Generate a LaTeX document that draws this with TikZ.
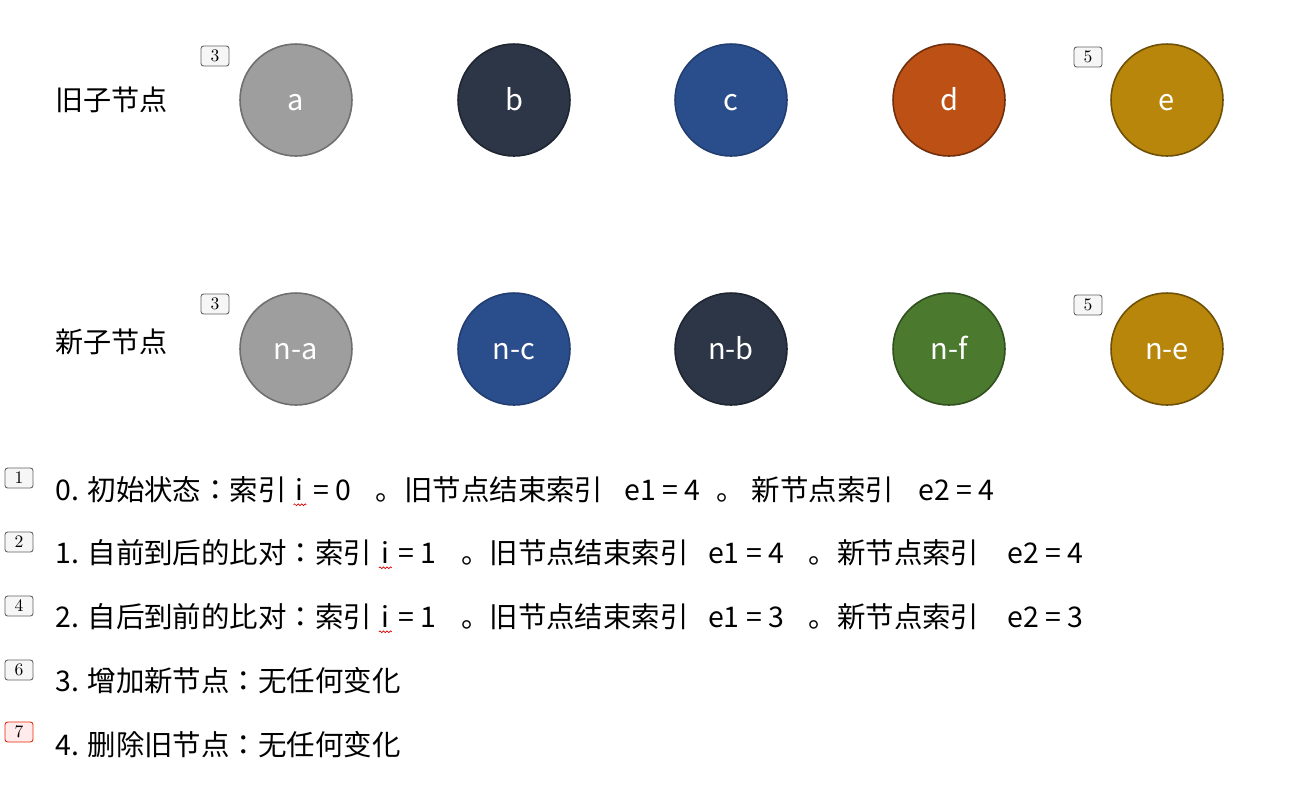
\documentclass[tikz,border=0pt]{standalone}
\usepackage{fontspec}
\newfontfamily\cjk{Noto Sans CJK JP}
\usepackage{tikz}
\usetikzlibrary{decorations.pathmorphing}
\definecolor{kgray}{HTML}{9E9E9E}
\definecolor{kslate}{HTML}{2C3647}
\definecolor{kblue}{HTML}{2A4D8C}
\definecolor{korange}{HTML}{BD5015}
\definecolor{kgold}{HTML}{B8860B}
\definecolor{kgreen}{HTML}{4B7A2F}
\tikzset{
  kid/.style    ={circle,draw,line width=0.9pt,minimum size=2.24cm,inner sep=0pt,text=white,text height=1.2em,text depth=0pt,font=\cjk\fontsize{16.5}{16.5}\selectfont},
  cgray/.style  ={fill=kgray,draw=kgray!70!black},
  cslate/.style ={fill=kslate,draw=kslate!70!black},
  cblue/.style  ={fill=kblue,draw=kblue!80!black},
  corange/.style={fill=korange,draw=korange!60!black},
  cgold/.style  ={fill=kgold,draw=kgold!60!black},
  cgreen/.style ={fill=kgreen,draw=kgreen!65!black},
  tag/.style    ={draw=gray!75!black,fill=gray!7,rounded corners=1.5pt,line width=0.5pt,minimum width=0.56cm,minimum height=0.4cm,inner sep=0pt,font=\fontsize{10}{10}\selectfont},
  redtag/.style ={tag,draw=red!65!orange!90!black,fill=red!8},
  rowlabel/.style={anchor=base west,inner sep=0pt,font=\cjk\fontsize{16}{16}\selectfont},
  stepline/.style={anchor=base west,inner sep=0pt,font=\cjk\fontsize{16.2}{16.2}\selectfont},
}
\newcommand\wavyi{\tikz[baseline=(wi.base)]{\node[inner sep=0pt] (wi) {i};
  \draw[red!85!black,line width=0.4pt,decorate,decoration={snake,amplitude=0.5pt,segment length=2pt}]
    ([yshift=-2.5pt,xshift=-1pt]wi.south west) -- ([yshift=-2.5pt,xshift=1.5pt]wi.south east);}}
\newcommand\gap[1]{\hspace*{#1pt}}

\begin{document}
\begin{tikzpicture}[x=0.02cm,y=-0.02cm]
  \useasboundingbox (0,0) rectangle (1312,796);
  % row labels
  \node[rowlabel] (oldlbl) at (55,110) {旧子节点};
  \node[rowlabel] (newlbl) at (55,352) {新子节点};
  % old children
  \foreach \x/\name/\col in {296/a/cgray,514/b/cslate,731/c/cblue,949/d/corange,1167/e/cgold}
     \node[kid,\col] (o\name) at (\x,100) {\name};
  % new children
  \foreach \x/\name/\col in {296/a/cgray,514/c/cblue,731/b/cslate,949/f/cgreen,1167/e/cgold}
     \node[kid,\col] (n\name) at (\x,349) {n-\name};
  % markers
  \node[tag] (t3a) at (215,56)  {3};
  \node[tag] (t5a) at (1088,57) {5};
  \node[tag] (t3b) at (215,304) {3};
  \node[tag] (t5b) at (1088,305){5};
  % steps
  \node[tag]    (t1) at (19,478) {1};
  \node[tag]    (t2) at (19,542) {2};
  \node[tag]    (t4) at (19,606) {4};
  \node[tag]    (t6) at (19,670) {6};
  \node[redtag] (t7) at (19,732) {7};
  \node[stepline] (s0) at (55,500) {0. 初始状态：索引 \wavyi{} = 0\gap{14}。旧节点结束索引\gap{12}e1 = 4\gap{9}。\gap{4}新节点索引\gap{14}e2 = 4};
  \node[stepline] (s1) at (55,563) {1. 自前到后的比对：索引 \wavyi{} = 1\gap{14}。旧节点结束索引\gap{11}e1 = 4\gap{14}。新节点索引\gap{16}e2 = 4};
  \node[stepline] (s2) at (55,627) {2. 自后到前的比对：索引 \wavyi{} = 1\gap{14}。旧节点结束索引\gap{11}e1 = 3\gap{14}。新节点索引\gap{16}e2 = 3};
  \node[stepline] (s3) at (55,691) {3. 增加新节点：无任何变化};
  \node[stepline] (s4) at (55,755) {4. 删除旧节点：无任何变化};
\end{tikzpicture}
\end{document}
